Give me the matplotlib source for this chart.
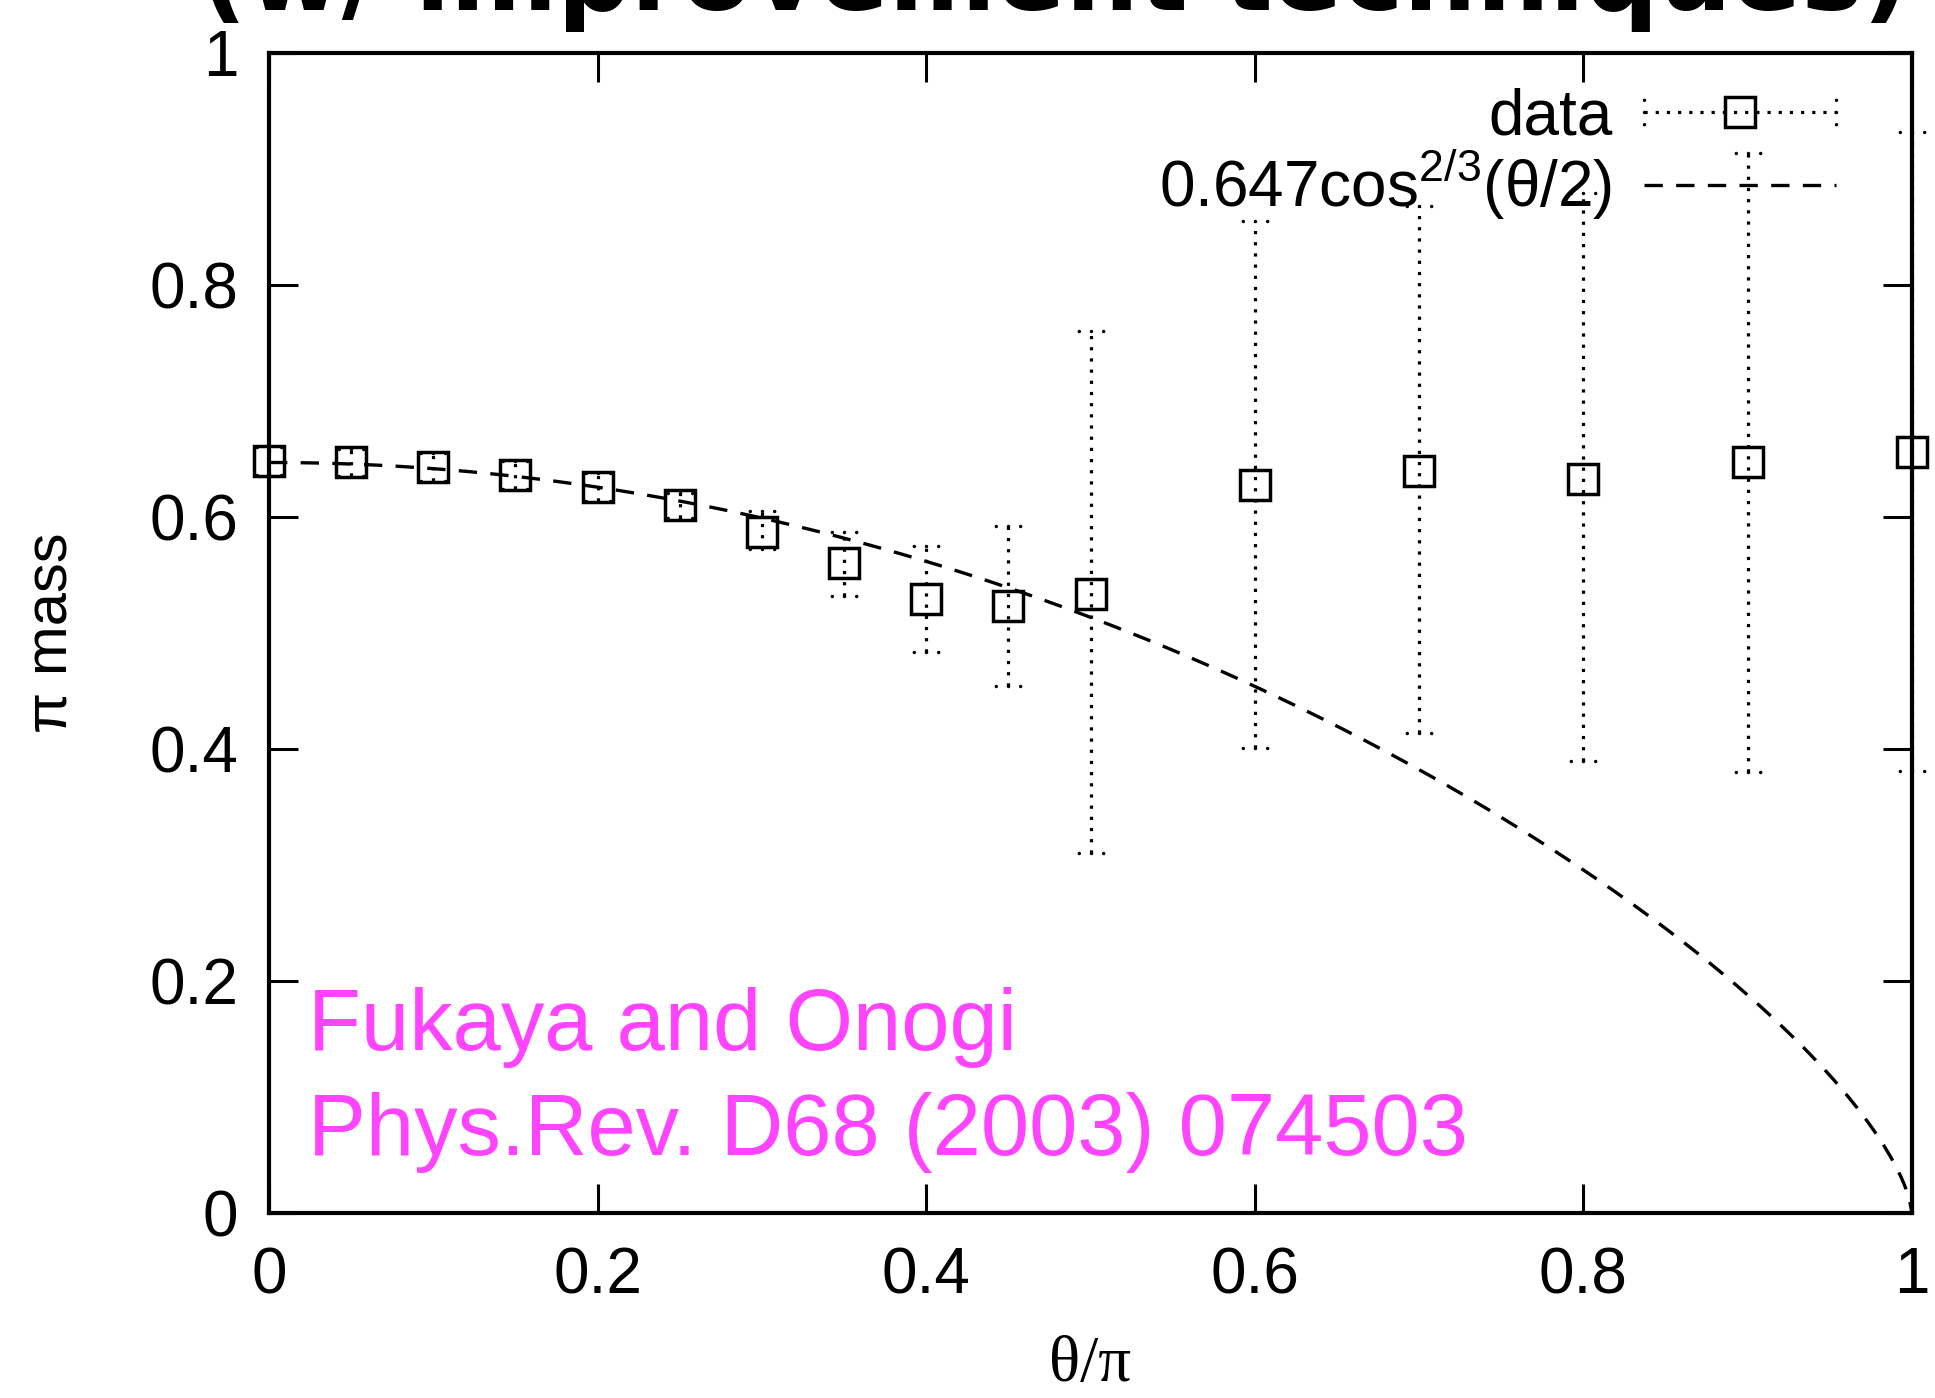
import numpy as np
import matplotlib
matplotlib.use("Agg")
import matplotlib.pyplot as plt
from matplotlib.lines import Line2D
from matplotlib.legend_handler import HandlerBase
from matplotlib.path import Path

# ---------------- data ----------------
theta = [0.0, 0.05, 0.1, 0.15, 0.2, 0.25, 0.3, 0.35, 0.4, 0.45, 0.5, 0.6, 0.7, 0.8, 0.9, 1.0]
pi_mass = [0.648, 0.647, 0.643, 0.636, 0.626, 0.610, 0.587, 0.560, 0.529, 0.523, 0.534,
           0.628, 0.640, 0.633, 0.647, 0.656]
pi_mass_hi = [0.660, 0.659, 0.655, 0.648, 0.638, 0.621, 0.605, 0.587, 0.575, 0.592, 0.760,
              0.855, 0.868, 0.879, 0.914, 0.932]
pi_mass_lo = [0.636, 0.635, 0.631, 0.624, 0.614, 0.599, 0.572, 0.532, 0.484, 0.454, 0.310,
              0.401, 0.414, 0.390, 0.380, 0.381]
fit_amp = 0.647
fit_pow = 2.0 / 3.0
x_ticks = [0, 0.2, 0.4, 0.6, 0.8, 1]
x_ticklabels = ["0", "0.2", "0.4", "0.6", "0.8", "1"]
y_ticks = [0, 0.2, 0.4, 0.6, 0.8, 1]
y_ticklabels = ["0", "0.2", "0.4", "0.6", "0.8", "1"]
title_text = "(w/ improvement techniques)"
credit_lines = ["Fukaya and Onogi", "Phys.Rev. D68 (2003) 074503"]

plt.rcParams["font.family"] = ["Liberation Sans", "DejaVu Sans"]
plt.rcParams["mathtext.fontset"] = "custom"
plt.rcParams["mathtext.rm"] = "Liberation Sans"

W, H, DPI = 1935, 1398, 100
fig = plt.figure(figsize=(W / DPI, H / DPI), dpi=DPI)
ax = fig.add_axes([269 / W, 1 - 1213 / H, (1912 - 269) / W, (1213 - 53) / H])

# dotted cap marker (three dots)
def dots_path(vertical=False):
    paths = []
    for p in (-1.0, 0.0, 1.0):
        c = Path.circle((0, p) if vertical else (p, 0), 0.14)
        paths.append(c)
    return Path.make_compound_path(*paths)

cap_h = dots_path(False)
cap_v = dots_path(True)

y = np.array(pi_mass)
yerr = [y - np.array(pi_mass_lo), np.array(pi_mass_hi) - y]

eb = ax.errorbar(theta, pi_mass, yerr=yerr, fmt="s", ms=21.5, mfc="none", mec="k",
                 mew=2.5, ecolor="k", elinewidth=2.3, capsize=10, capthick=2.0,
                 clip_on=False, zorder=3)
for cl in eb[1]:
    cl.set_marker(cap_h)
    cl.set_markersize(20)
    cl.set_markerfacecolor("k")
    cl.set_markeredgewidth(0)
    cl.set_clip_on(False)
for lc in eb[2]:
    lc.set_linestyle((0, (1.0, 2.5)))
    lc.set_clip_on(False)

xf = np.linspace(0, 1, 600)
yf = fit_amp * np.cos(np.pi * xf / 2) ** fit_pow
fit_line, = ax.plot(xf, yf, color="k", lw=2.4, dashes=(5.5, 4), clip_on=False, zorder=2)

ax.set_xlim(0, 1)
ax.set_ylim(0, 1)
ax.set_xticks(x_ticks)
ax.set_xticklabels(x_ticklabels)
ax.set_yticks(y_ticks)
ax.set_yticklabels(y_ticklabels)
ax.tick_params(direction="in", length=21, width=2.2, top=True, right=True,
               labelsize=46, pad=20)
ax.tick_params(axis="x", pad=24)
ax.tick_params(axis="y", pad=22)
for s in ax.spines.values():
    s.set_linewidth(3.0)

ax.set_xlabel("θ/π", fontsize=47, family=["Liberation Serif", "DejaVu Serif"], labelpad=21)
ax.set_ylabel("π mass", fontsize=43, labelpad=50)

# legend handler mimicking gnuplot's errorbar key
class HandlerDataKey(HandlerBase):
    def create_artists(self, legend, orig_handle, xdescent, ydescent, width, height,
                       fontsize, trans):
        yc = height / 2 - ydescent
        x0, x1 = -xdescent, width - xdescent
        ln = Line2D([x0, x1], [yc, yc], color="k", lw=2.3, linestyle=(0, (1.0, 2.5)))
        caps = Line2D([x0, x1], [yc, yc], ls="none", marker=cap_v, ms=20,
                      mfc="k", mew=0)
        mk = Line2D([(x0 + x1) / 2], [yc], ls="none", marker="s", ms=21.5,
                    mfc="none", mec="k", mew=2.5)
        out = [ln, caps, mk]
        for a in out:
            a.set_transform(trans)
        return out

data_handle = Line2D([], [])
leg = ax.legend([data_handle, fit_line],
                ["data", "0.647cos$^{\\mathregular{2/3}}$(θ/2)"],
                handler_map={data_handle: HandlerDataKey()},
                loc="upper right", bbox_to_anchor=(0.979, 1.006), frameon=False,
                markerfirst=False, fontsize=46, handlelength=3.0,
                handletextpad=0.5, labelspacing=0.0, borderaxespad=0.25)

# title (cut off at the top in the reference)
fig.text((216 + 1893) / 2 / W, 1 - 10 / H, title_text, fontsize=74, fontweight="bold",
         family=["DejaVu Sans"], ha="center", va="baseline")

# credit text
mag = "#ff44ff"
fig.text(308 / W, 1 - 1050 / H, credit_lines[0], color=mag, fontsize=62.5,
         va="baseline", ha="left")
fig.text(308 / W, 1 - 1155 / H, credit_lines[1], color=mag, fontsize=62.5,
         va="baseline", ha="left")

fig.savefig("out.png", dpi=DPI)
